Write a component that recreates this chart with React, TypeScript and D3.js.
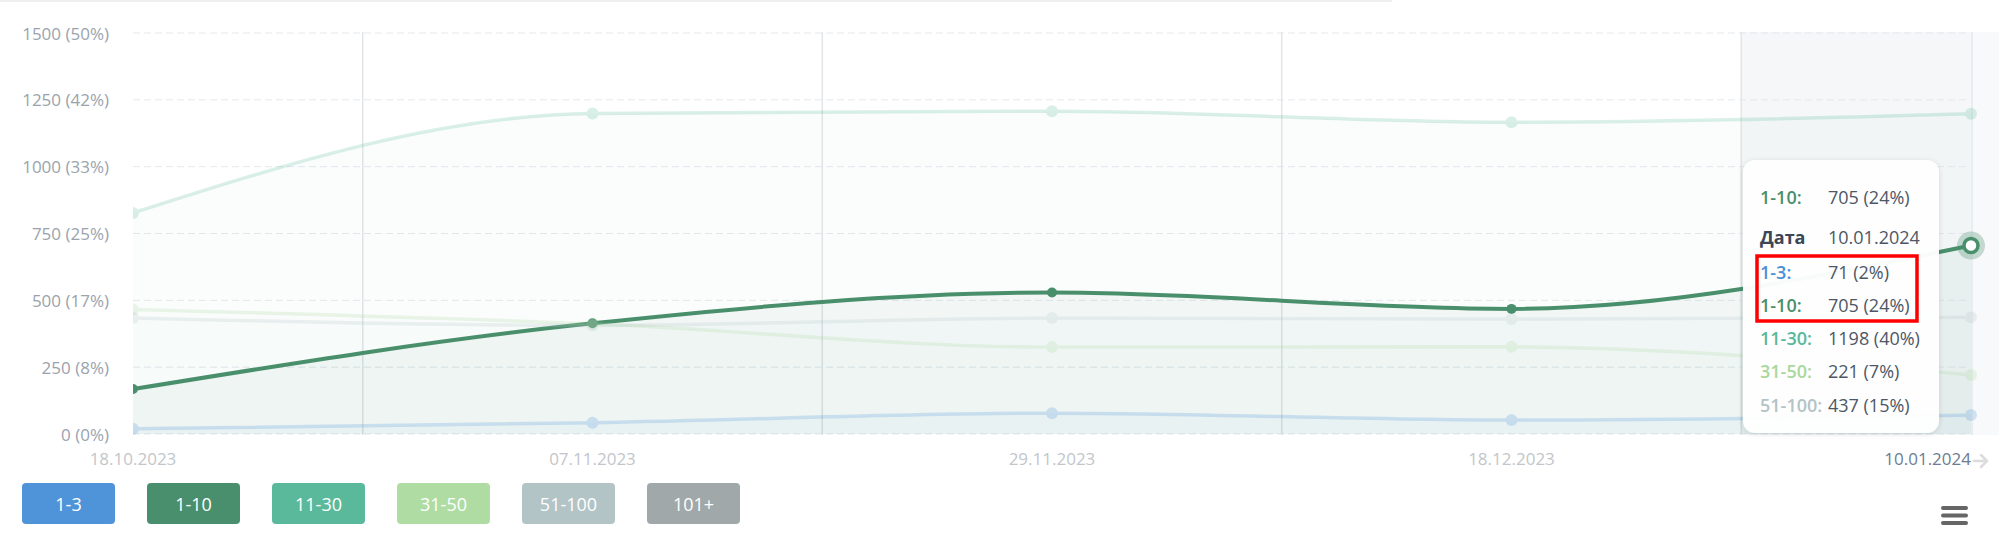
import React from "react";
import * as d3 from "d3";

const categories = ["18.10.2023", "07.11.2023", "29.11.2023", "18.12.2023", "10.01.2024"];
const seriesNames = ["1-3", "1-10", "11-30", "31-50", "51-100"];
const s1_3 = [20, 42, 78, 52, 71];
const s1_10 = [168, 414, 529, 468, 705];
const s11_30 = [827, 1199, 1207, 1166, 1198];
const s31_50 = [466, 412, 325, 326, 221];
const s51_100 = [434, 406, 434, 430, 437];
const seriesColors = ["#4a90d9", "#4a8f6c", "#58b99a", "#a9d89c", "#b3c3c6"];
const yTicks = [0, 250, 500, 750, 1000, 1250, 1500];
const yTickLabels = ["0 (0%)", "250 (8%)", "500 (17%)", "750 (25%)", "1000 (33%)", "1250 (42%)", "1500 (50%)"];
const legendNames = ["1-3", "1-10", "11-30", "31-50", "51-100", "101+"];
const legendColors = ["#4f93d9", "#4a8f6d", "#5bb99b", "#afdca3", "#b3c4c7", "#a1a8a9"];
const TOTAL = 3000;

const FONT = "'Open Sans', sans-serif";

export default function App() {
  const allSeries = [s1_3, s1_10, s11_30, s31_50, s51_100];
  const activeIdx = 1;
  const hoverIdx = 4;
  const x = d3.scalePoint<string>().domain(categories).range([133, 1971]);
  const y = d3.scaleLinear().domain([0, 1500]).range([434, 33]);
  const step = x.step();
  const line = d3.line<number>().x((_, i) => x(categories[i])!).y((d) => y(d)).curve(d3.curveMonotoneX);
  const area = d3
    .area<number>()
    .x((_, i) => x(categories[i])!)
    .y0(y(0))
    .y1((d) => y(d))
    .curve(d3.curveMonotoneX);
  const fillOp = [0.03, 0.05, 0.025, 0.02, 0.025];
  const left = x(categories[0])!;
  const right = x(categories[categories.length - 1])!;
  const hx = x(categories[hoverIdx])!;

  const tipRows = [0, 1, 2, 3, 4].map((i) => ({
    name: seriesNames[i],
    color: seriesColors[i],
    val: allSeries[i][hoverIdx],
  }));
  const pct = (v: number) => `${v} (${Math.round((v / TOTAL) * 100)}%)`;
  const rowYs = [272, 305, 338, 371, 405];
  const TF = 18;

  return (
    <svg width={1999} height={545} style={{ position: "absolute", left: 0, top: 0, fontFamily: FONT }}>
      <defs>
        <filter id="sh" x="-20%" y="-20%" width="140%" height="140%">
          <feDropShadow dx="0" dy="1" stdDeviation="3" floodColor="#000" floodOpacity="0.12" />
        </filter>
        <clipPath id="plotclip">
          <rect x={left} y={20} width={1999 - left} height={y(0) - 20 + 1} />
        </clipPath>
      </defs>
      <rect x={0} y={0} width={1392} height={2} fill="#efefef" />

      {/* crosshair band */}
      <rect x={hx - step / 2} y={32} width={right - (hx - step / 2)} height={y(0) - 32 + 1} fill="#eef1f4" opacity={0.6} />
      <rect x={right} y={32} width={1999 - right} height={y(0) - 32 + 1} fill="#f3f5f7" opacity={0.6} />

      {/* gridlines */}
      {yTicks.map((t) => (
        <line key={t} x1={left} x2={1967} y1={y(t)} y2={y(t)} stroke="#e5e8ec" strokeDasharray="7,4" strokeWidth={1} />
      ))}
      {categories.slice(0, -1).map((c) => (
        <line key={c} x1={x(c)! + step / 2} x2={x(c)! + step / 2} y1={32} y2={y(0) + 1} stroke="#e2e5e8" strokeWidth={1.5} />
      ))}
      <line x1={right + 1} x2={right + 1} y1={32} y2={y(0) + 1} stroke="#e6e8eb" strokeWidth={1.5} />

      {/* y labels */}
      {yTicks.map((t, i) => (
        <text key={t} x={109} y={y(t)} textAnchor="end" dominantBaseline="central" fontSize={17} fill="#9aa3ad">
          {yTickLabels[i]}
        </text>
      ))}

      {/* areas */}
      <g clipPath="url(#plotclip)">
        {allSeries.map((s, i) => (
          <path key={"a" + i} d={area(s)!} fill={seriesColors[i]} opacity={fillOp[i]} />
        ))}
        {allSeries.map((s, i) => (
          <g key={"l" + i} opacity={i === activeIdx ? 1 : 0.22}>
            <path d={line(s)!} fill="none" stroke={seriesColors[i]} strokeWidth={i === activeIdx ? 4 : 3.5} />
            {s.map((v, j) =>
              i === activeIdx && j === hoverIdx ? null : (
                <circle key={j} cx={x(categories[j])} cy={y(v)} r={i === activeIdx ? 5 : 6} fill={seriesColors[i]} />
              )
            )}
          </g>
        ))}
      </g>

      {/* hovered marker */}
      <circle cx={hx} cy={y(allSeries[activeIdx][hoverIdx])} r={14} fill={seriesColors[activeIdx]} opacity={0.3} />
      <circle cx={hx} cy={y(allSeries[activeIdx][hoverIdx])} r={7} fill="#fff" stroke={seriesColors[activeIdx]} strokeWidth={3.5} />

      {/* x labels */}
      {categories.map((c, i) => {
        const last = i === categories.length - 1;
        return (
          <text
            key={c}
            x={last ? right : x(c)}
            y={458}
            textAnchor={last ? "end" : "middle"}
            dominantBaseline="central"
            fontSize={17}
            fill={last ? "#6d7c92" : "#c2c6cb"}
          >
            {c}
          </text>
        );
      })}
      <g stroke="#dcdcdc" strokeWidth={2.5} fill="none" strokeLinecap="round" strokeLinejoin="round">
        <path d="M1974,461 L1987,461 M1981,455 L1987,461 L1981,467" />
      </g>

      {/* tooltip */}
      <rect x={1743} y={160} width={196} height={273} rx={12} fill="#fff" opacity={0.97} filter="url(#sh)" />
      <text x={1760} y={197} dominantBaseline="central" fontSize={TF} fontWeight={600} fill={seriesColors[activeIdx]}>
        {seriesNames[activeIdx]}:
      </text>
      <text x={1828} y={197} dominantBaseline="central" fontSize={TF} fill="#4d5766">
        {pct(allSeries[activeIdx][hoverIdx])}
      </text>
      <text x={1760} y={237} dominantBaseline="central" fontSize={TF} fontWeight={700} fill="#3b4656">
        Дата
      </text>
      <text x={1828} y={237} dominantBaseline="central" fontSize={TF} fill="#4d5766">
        {categories[hoverIdx]}
      </text>
      {tipRows.map((r, i) => (
        <g key={r.name}>
          <text x={1760} y={rowYs[i]} dominantBaseline="central" fontSize={TF} fontWeight={600} fill={r.color}>
            {r.name}:
          </text>
          <text x={1828} y={rowYs[i]} dominantBaseline="central" fontSize={TF} fill="#4d5766">
            {pct(r.val)}
          </text>
        </g>
      ))}
      <rect x={1757} y={256} width={160} height={65} fill="none" stroke="#ff0000" strokeWidth={3.5} />

      {/* legend */}
      {legendNames.map((n, i) => (
        <g key={n}>
          <rect x={22 + i * 125} y={483} width={93} height={41} rx={4} fill={legendColors[i]} />
          <text x={22 + i * 125 + 46.5} y={504} textAnchor="middle" dominantBaseline="central" fontSize={18} fill="#fff">
            {n}
          </text>
        </g>
      ))}

      {/* menu icon */}
      {[0, 1, 2].map((k) => (
        <rect key={k} x={1941} y={506 + k * 7.5} width={27} height={4} rx={2} fill="#666" />
      ))}
    </svg>
  );
}
